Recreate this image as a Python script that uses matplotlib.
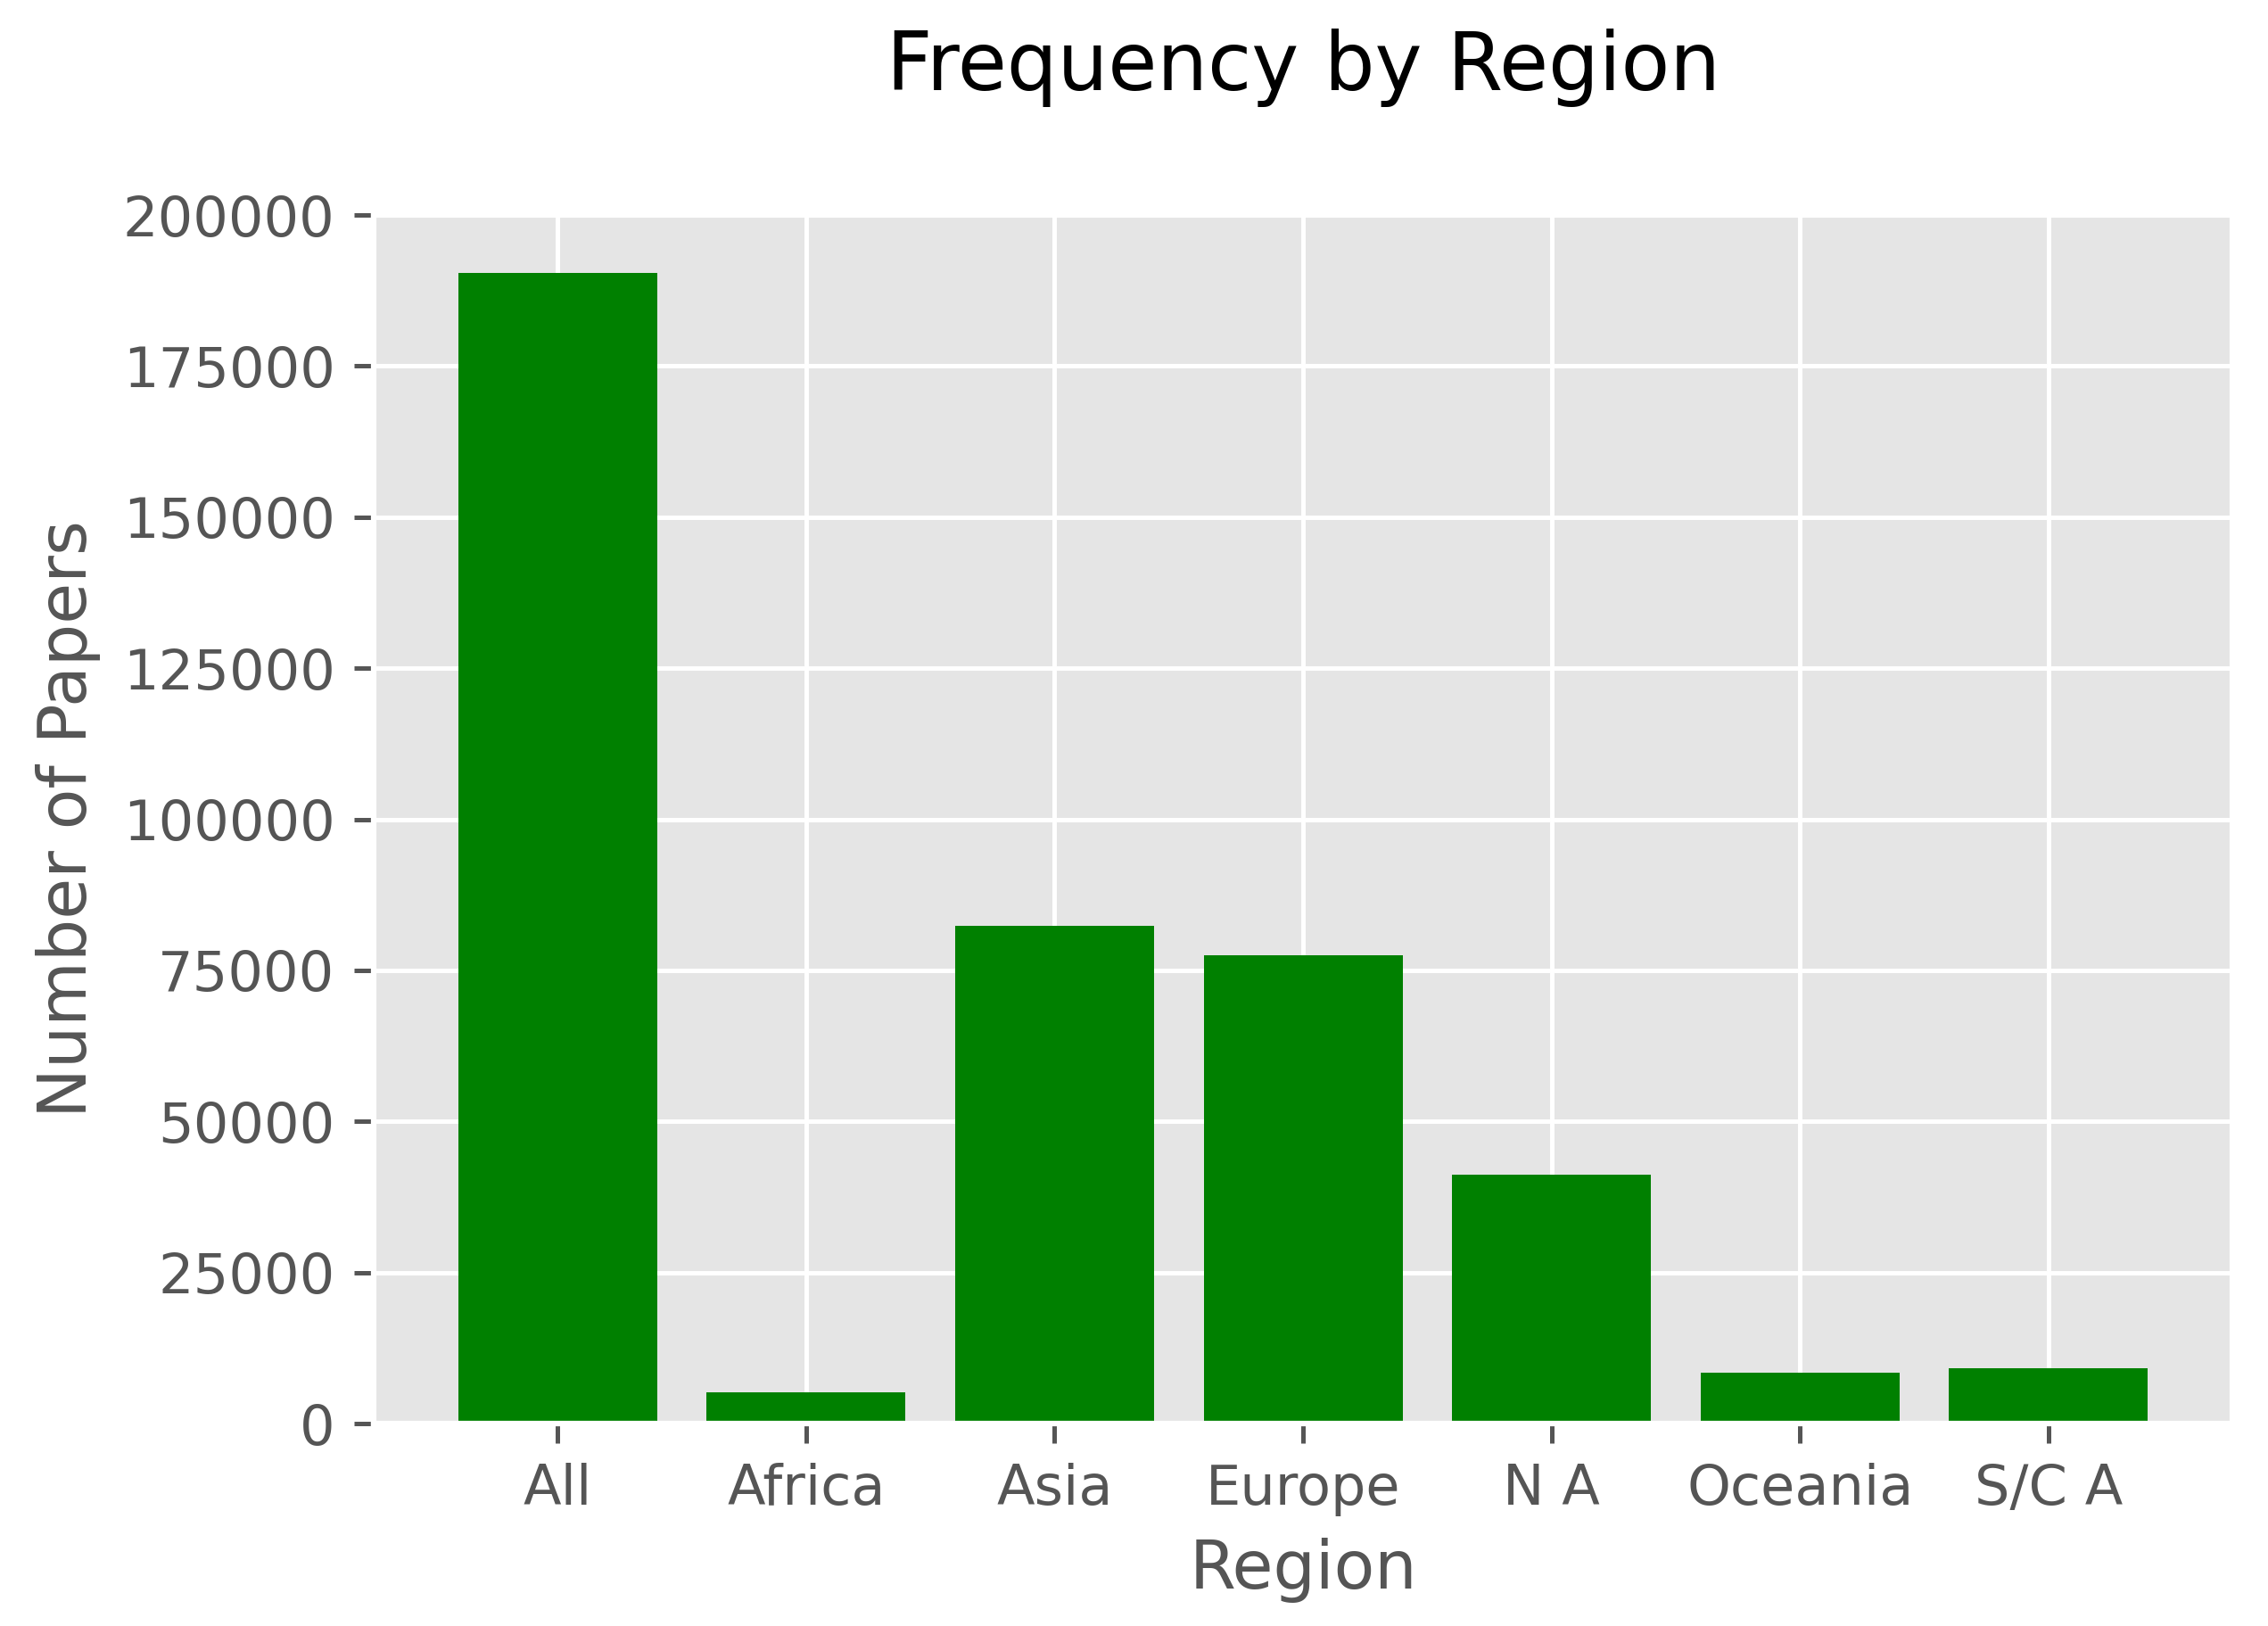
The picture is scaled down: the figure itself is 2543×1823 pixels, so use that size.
import matplotlib
matplotlib.use("Agg")
import matplotlib.pyplot as plt

plt.style.use("ggplot")

regions = ["All", "Africa", "Asia", "Europe", "N A", "Oceania", "S/C A"]
papers = [190400, 5200, 82300, 77550, 41200, 8450, 9200]
yticks = [0, 25000, 50000, 75000, 100000, 125000, 150000, 175000, 200000]

DPI = 448
fig = plt.figure(figsize=(2543 / DPI, 1823 / DPI), dpi=DPI)
ax = fig.add_axes([0.1648, 0.1245, 0.9843 - 0.1648, 0.8678 - 0.1245])
ax.bar(regions, papers, color="green", width=0.8)
ax.set_yticks(yticks)
ax.set_yticklabels([str(t) for t in yticks])
ax.set_ylim(0, 200000)
ax.tick_params(axis="both", colors="#555555", labelcolor="#555555")
ax.set_xlabel("Region", color="#555555")
ax.set_ylabel("Number of Papers", color="#555555")
ax.set_title("Frequency by Region", color="black", pad=22.5)
fig.savefig("out.png", dpi=DPI)
